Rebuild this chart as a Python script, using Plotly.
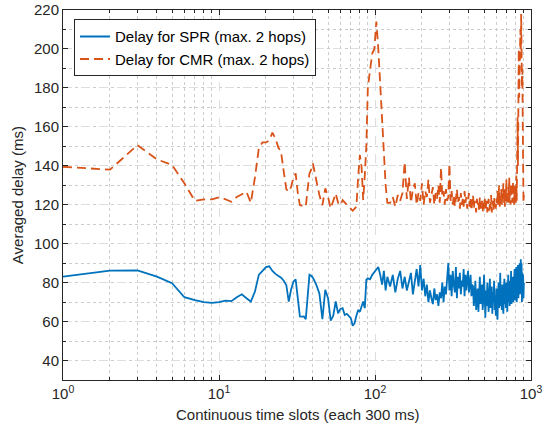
import plotly.graph_objects as go

# ---- data ----
slots = (list(range(1, 41)) + list(range(42, 91, 2)) + list(range(93, 121, 3))
         + list(range(125, 901, 5)))

spr_early = [83.1, 86.2, 86.3, 83.1, 79.7, 72.5, 71.0, 70.0, 69.6, 70.0,
             70.8, 70.5, 72.5, 74.0, 72.0, 70.3, 75.4, 84.0, 86.0, 88.0,
             88.4, 86.0, 84.5, 83.5, 82.5, 81.0, 78.8, 70.3, 76.5, 80.5,
             81.7, 72.0, 62.6, 62.5, 62.6, 61.2, 72.0, 84.0, 83.5, 82.5]
spr_mid = [79.0, 74.5, 61.2, 76.3, 72.0, 60.5, 63.0, 70.3, 64.3, 66.5,
           66.9, 63.4, 64.0, 62.5, 61.7, 57.8, 59.2, 63.0, 66.0, 65.0,
           68.0, 70.3, 66.9, 81.5, 82.2]
spr_peak = [81.7, 84.0, 85.6, 86.5, 88.0, 84.0, 79.0, 86.0, 76.0, 83.0]
spr_dense = [78, 84, 75, 82, 86, 77, 83, 76, 81,
             85, 74, 80, 87, 78, 89, 76,
             82, 73, 79, 70, 76, 72, 69, 77, 71, 74, 68, 75, 72, 80, 70, 78, 74, 82,
             90, 76, 84, 73, 86, 79, 75, 88, 72, 83, 77, 85, 74, 81, 78, 87, 73, 84,
             76, 82, 86, 75, 80, 84, 73, 79,
             78, 68, 74, 81, 66, 72, 77, 65, 75, 83, 69, 73, 79, 66, 71, 84, 70, 62,
             76, 68, 80, 71, 65, 74, 82, 67, 72, 78, 64, 75, 70, 81, 66, 73, 63, 77,
             69, 61, 74, 80, 67, 72, 85, 68, 75, 66, 79, 71, 64, 76, 82, 69, 73, 67,
             80, 72, 65, 77, 84, 70, 74, 68, 81, 71, 86, 69, 76, 72, 83, 70, 78, 73,
             87, 71, 80,
             74, 88, 70, 84, 76, 89, 72, 86, 78, 90, 74, 88, 92, 80, 90, 70, 85, 76,
             84, 72, 80]

cmr_early = [139.5, 138.0, 150.6, 143.3, 140.4, 131.0, 122.0, 122.7, 122.8, 123.8,
             122.8, 121.5, 124.0, 125.2, 126.7, 121.0, 134.0, 149.0, 152.0, 152.0,
             153.0, 157.0, 154.0, 149.5, 147.0, 137.0, 128.0, 126.7, 129.2, 134.0,
             136.1, 126.0, 119.8, 119.5, 119.3, 119.0, 128.0, 136.1, 138.0, 141.2]
cmr_mid = [132.7, 125.0, 119.8, 128.4, 124.0, 118.2, 122.0, 125.8, 121.0, 119.8,
           122.4, 121.0, 120.0, 119.0, 118.0, 116.9, 118.0, 119.0, 134.4, 145.5,
           139.5, 122.4, 135.0, 150.0, 180.5]
cmr_peak = [189.0, 197.6, 200.0, 214.0, 200.0, 182.0, 163.0, 150.0, 130.0, 121.0]
cmr_dense = [121, 124, 119, 125, 122, 126,
             142, 123,
             134, 121, 128, 131, 120,
             126, 122, 131, 120, 127, 124, 133, 121, 125, 129, 120, 126, 123, 130,
             121, 139, 124, 127, 120, 128, 122,
             124, 141,
             122, 127, 120, 125, 119, 123, 128, 121, 124, 118, 126, 120, 123, 119,
             127, 121, 124, 118, 122, 126, 119, 123, 117, 121, 125, 118, 122, 120,
             116, 123, 119, 121, 117, 124, 118, 120, 122, 116, 121, 118, 124, 117,
             120, 122, 116, 119, 123, 117, 121, 118, 125, 116, 120, 122, 117, 124,
             119, 121, 118, 123,
             121, 127, 120, 124, 130, 119, 125, 122, 128, 120, 126, 123, 131, 121,
             125, 119, 128, 122, 133, 120, 126, 123, 129, 121, 134, 122, 127, 120,
             131, 124, 128, 121, 132, 123, 127, 120, 130, 122, 126,
             121, 135, 122, 150, 165, 140, 185, 200, 175, 205, 190, 210, 195, 218,
             200, 180, 190, 165, 140, 121, 125]

spr = spr_early + spr_mid + spr_peak + spr_dense
cmr = cmr_early + cmr_mid + cmr_peak + cmr_dense
assert len(spr) == len(slots), (len(spr), len(slots))
assert len(cmr) == len(slots), (len(cmr), len(slots))

x_tickvals = [1, 10, 100, 1000]
x_ticktext = ["10<sup>0</sup>", "10<sup>1</sup>", "10<sup>2</sup>", "10<sup>3</sup>"]
x_minor = [m * d for d in (1, 10, 100) for m in range(2, 10)]
y_tickvals = list(range(40, 221, 20))
x_title = "Continuous time slots (each 300 ms)"
y_title = "Averaged delay (ms)"

AX = "#262626"
FONT = "Liberation Sans, Arial, Helvetica, sans-serif"

fig = go.Figure()
fig.add_trace(go.Scatter(x=slots, y=spr, mode="lines",
                         name="Delay for SPR (max. 2 hops)",
                         line=dict(color="#0072BD", width=1.8)))
fig.add_trace(go.Scatter(x=slots, y=cmr, mode="lines",
                         name="Delay for CMR (max. 2 hops)",
                         line=dict(color="#D95319", width=1.8, dash="9px,5px")))

fig.update_layout(
    width=544, height=437,
    margin=dict(l=63, r=13, t=10, b=57),
    paper_bgcolor="white", plot_bgcolor="white",
    font=dict(family=FONT, size=15, color=AX),
    showlegend=True,
    legend=dict(x=0.0235, y=0.975, xanchor="left", yanchor="top",
                bgcolor="white", bordercolor=AX, borderwidth=1,
                font=dict(size=15, color="#000000"),
                tracegroupgap=0, itemwidth=30),
    annotations=[
        dict(text=x_title, xref="paper", yref="paper", x=0.5, y=-0.094,
             xanchor="center", yanchor="middle", showarrow=False,
             font=dict(size=15, color=AX)),
        dict(text=y_title, xref="paper", yref="paper", x=-0.098, y=0.5,
             xanchor="center", yanchor="middle", showarrow=False, textangle=-90,
             font=dict(size=15, color=AX)),
    ],
)
fig.update_xaxes(
    type="log", range=[0, 3], automargin=False, ticklabeloverflow="allow",
    tickmode="array", tickvals=x_tickvals, ticktext=x_ticktext,
    ticks="inside", ticklen=5, tickcolor=AX,
    showline=True, linecolor=AX, linewidth=1, mirror="ticks",
    showgrid=True, gridcolor="#dedede", griddash="dash", gridwidth=1,
    minor=dict(tickmode="array", tickvals=x_minor, ticks="inside", ticklen=3,
               tickcolor=AX, showgrid=True, gridcolor="#cccccc", griddash="dot"),
    zeroline=False,
)
fig.update_yaxes(
    range=[30, 220], automargin=False, ticklabeloverflow="allow",
    tickmode="array", tickvals=y_tickvals,
    ticks="inside", ticklen=5, tickcolor=AX,
    showline=True, linecolor=AX, linewidth=1, mirror="ticks",
    showgrid=True, gridcolor="#dedede", griddash="dash", gridwidth=1,
    minor=dict(dtick=10, ticks="inside", ticklen=3, tickcolor=AX,
               showgrid=True, gridcolor="#cccccc", griddash="dot"),
    zeroline=False,
)

fig.write_html("out.html", config={"displayModeBar": False},
               post_script="document.body.style.margin='0';document.body.style.padding='0';")
